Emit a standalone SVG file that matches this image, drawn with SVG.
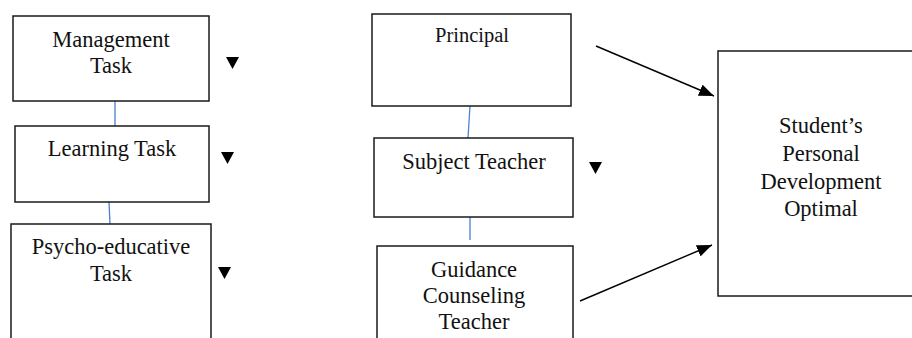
<svg xmlns="http://www.w3.org/2000/svg" width="912" height="338" viewBox="0 0 912 338">
<defs>
<style>
.box{fill:#fff;stroke:#1a1a1a;stroke-width:1.5}
.t{font-family:"Liberation Serif","Times New Roman",serif;font-size:22.5px;fill:#111;text-anchor:middle}
.blue{stroke:#4a7fd0;stroke-width:1.3;fill:none}
.arr{stroke:#000;stroke-width:1.4;fill:none;marker-end:url(#ah)}
.tri{fill:#000}
</style>
<marker id="ah" markerUnits="userSpaceOnUse" markerWidth="16" markerHeight="12" refX="15" refY="6" orient="auto">
<path d="M0,0 L15,6 L0,12 Z" fill="#000"/>
</marker>
</defs>
<rect width="912" height="338" fill="#fff"/>
<g id="connectors">
<line class="blue" x1="115" y1="101" x2="115" y2="126"/>
<line class="blue" x1="109" y1="202" x2="110" y2="224"/>
<line class="blue" x1="470" y1="106" x2="468" y2="138"/>
<line class="blue" x1="470" y1="217" x2="470" y2="240"/>
<line class="arr" x1="596" y1="46" x2="714" y2="96"/>
<line class="arr" x1="580" y1="301" x2="712" y2="245"/>
</g>
<g id="management">
<rect class="box" x="13" y="16" width="196" height="85"/>
<text class="t" x="111" y="47">Management</text>
<text class="t" x="111" y="73">Task</text>
<path class="tri" d="M226,57 L239,57 L232.5,69 Z"/>
</g>
<g id="learning">
<rect class="box" x="15" y="126" width="194" height="76"/>
<text class="t" x="112" y="156">Learning Task</text>
<path class="tri" d="M221,152 L234,152 L227.5,164 Z"/>
</g>
<g id="psycho">
<rect class="box" x="11" y="224" width="200" height="130"/>
<text class="t" x="111" y="254">Psycho-educative</text>
<text class="t" x="111" y="281">Task</text>
<path class="tri" d="M218,267 L231,267 L224.5,279 Z"/>
</g>
<g id="principal">
<rect class="box" x="372" y="14" width="199" height="92"/>
<text class="t" x="472" y="42" style="font-size:20.5px">Principal</text>
</g>
<g id="subject">
<rect class="box" x="374" y="138" width="199" height="79"/>
<text class="t" x="474" y="169">Subject Teacher</text>
<path class="tri" d="M589,162 L602,162 L595.5,174 Z"/>
</g>
<g id="guidance">
<rect class="box" x="377" y="246" width="196" height="110"/>
<text class="t" x="474" y="277">Guidance</text>
<text class="t" x="474" y="303">Counseling</text>
<text class="t" x="474" y="329">Teacher</text>
</g>
<g id="student">
<rect class="box" x="718" y="51" width="220" height="245"/>
<text class="t" x="821" y="133">Student’s</text>
<text class="t" x="821" y="161">Personal</text>
<text class="t" x="821" y="189">Development</text>
<text class="t" x="821" y="216">Optimal</text>
</g>
</svg>
